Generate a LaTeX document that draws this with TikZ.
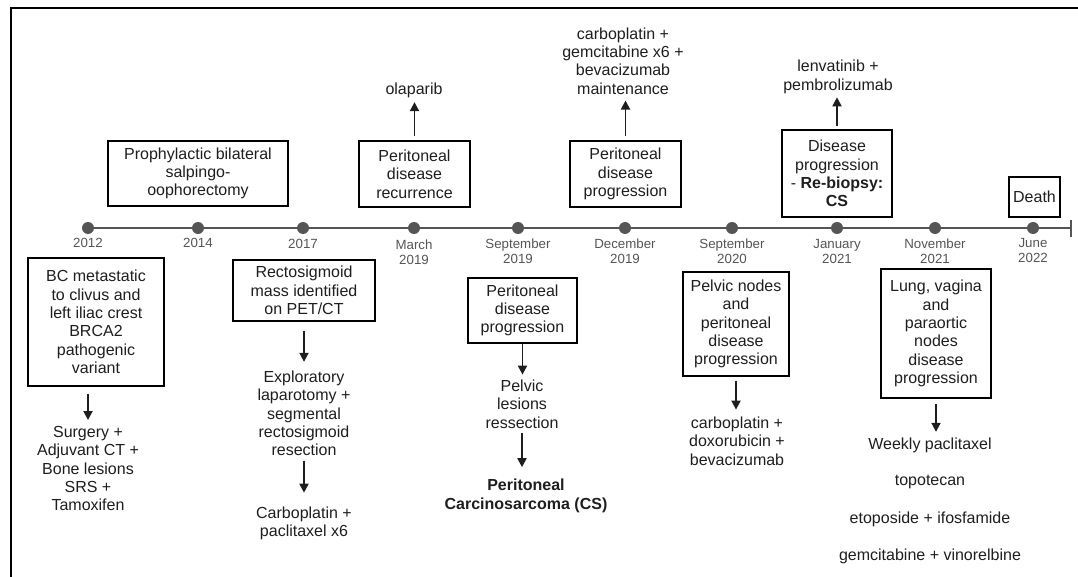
\documentclass[tikz,border=0pt]{standalone}
\usepackage{fontspec}
\setmainfont{Liberation Sans}
\usepackage{xcolor}
\usetikzlibrary{arrows.meta,positioning}
\definecolor{axisgray}{HTML}{555555}
\definecolor{ink}{HTML}{1E1E1E}

\begin{document}
\begin{tikzpicture}[
    x=1pt, y=-1pt,
    event/.style={rectangle, draw=black, line width=1.8pt, inner sep=0pt, align=center, text=ink, font=\fontsize{16}{18.3}\selectfont},
    note/.style={inner sep=0pt, align=center, text=ink, font=\fontsize{16}{18.3}\selectfont},
    dot/.style={circle, fill=axisgray, inner sep=0pt, minimum size=12pt},
    date/.style={inner sep=0pt, align=center, text=axisgray, font=\fontsize{13.3}{15}\selectfont},
    timeline/.style={draw=axisgray, line width=2pt},
    arrow/.style={-{Triangle[length=9pt,width=9pt]}, line width=1.8pt, draw=ink}
]
    \useasboundingbox (0,0) rectangle (1078,577);
    \draw[line width=1.2pt] (11,577) -- (11,8) -- (1078,8);

    % Timeline
    \coordinate (tstart) at (88,228);
    \coordinate (tend) at (1071,228);
    \draw[timeline] (tstart) -- (tend);
    \draw[timeline] ([yshift=8pt]tend) -- ([yshift=-9pt]tend);

    \node[dot] (d1) at (88,228) {};
    \node[dot] (d2) at (198,228) {};
    \node[dot] (d3) at (303,228) {};
    \node[dot] (d4) at (414,228) {};
    \node[dot] (d5) at (518,228) {};
    \node[dot] (d6) at (625,228) {};
    \node[dot] (d7) at (732,228) {};
    \node[dot] (d8) at (837,228) {};
    \node[dot] (d9) at (935,228) {};
    \node[dot] (d10) at (1033,228) {};

    % Dates
    \node[date, below=4pt of d1] (y1) {2012};
    \node[date, below=4pt of d2] (y2) {2014};
    \node[date, below=5pt of d3] (y3) {2017};
    \node[date, below=5pt of d4] (y4) {March\\2019};
    \node[date, below=4pt of d5] (y5) {September\\2019};
    \node[date, below=4pt of d6] (y6) {December\\2019};
    \node[date, below=4pt of d7] (y7) {September\\2020};
    \node[date, below=5pt of d8] (y8) {January\\2021};
    \node[date, below=4pt of d9] (y9) {November\\2021};
    \node[date, below=4pt of d10] (y10) {June\\2022};

    % Events above the line
    \node[event, minimum width=180pt, minimum height=65pt] (proph) at (198,173.5) {Prophylactic bilateral\\salpingo-\\oophorectomy};
    \node[event, minimum width=111pt, minimum height=66pt] (recur) at (414.5,174) {Peritoneal\\disease\\recurrence};
    \node[note] (olap) at (414,90) {olaparib};
    \node[event, minimum width=111pt, minimum height=66pt] (prog1) at (625.5,174) {Peritoneal\\disease\\progression};
    \node[note] (cgb) at (623,61) {carboplatin +\\gemcitabine x6 +\\bevacizumab\\maintenance};
    \node[event, minimum width=110pt, minimum height=87pt] (rebio) at (837,173.5) {Disease\\progression\\- \textbf{Re-biopsy:}\\\textbf{CS}};
    \node[note] (lenv) at (838,77) {lenvatinib +\\pembrolizumab};
    \node[event, minimum width=51pt, minimum height=40pt] (death) at (1034.5,197) {Death};

    % Events below the line
    \node[event, minimum width=136pt, minimum height=128pt] (bc) at (96,322) {BC metastatic\\to clivus and\\left iliac crest\\BRCA2\\pathogenic\\variant};
    \node[note] (surg) at (88,468.5) {Surgery +\\Adjuvant CT +\\Bone lesions\\SRS +\\Tamoxifen};
    \node[event, minimum width=142pt, minimum height=61pt] (recto) at (304,290.5) {Rectosigmoid\\mass identified\\on PET/CT};
    \node[note] (explo) at (304,413.5) {Exploratory\\laparotomy +\\segmental\\rectosigmoid\\resection};
    \node[note] (cp) at (304,523.5) {Carboplatin +\\paclitaxel x6};
    \node[event, minimum width=109pt, minimum height=65pt] (prog2) at (522.5,310.5) {Peritoneal\\disease\\progression};
    \node[note] (pelv) at (522,404) {Pelvic\\lesions\\ressection};
    \node[note, font=\fontsize{16}{18.3}\selectfont\bfseries] (cs) at (526,496) {Peritoneal\\Carcinosarcoma (CS)};
    \node[event, minimum width=106pt, minimum height=104pt] (pelnod) at (736,324) {Pelvic nodes\\and\\peritoneal\\disease\\progression};
    \node[note] (cdb) at (737,441) {carboplatin +\\doxorubicin +\\bevacizumab};
    \node[event, minimum width=110pt, minimum height=129pt] (lung) at (936,333.5) {Lung, vagina\\and\\paraortic\\nodes\\disease\\progression};
    \node[note] (wp) at (930,445) {Weekly paclitaxel};
    \node[note] (topo) at (930,482) {topotecan};
    \node[note] (etop) at (930,519) {etoposide + ifosfamide};
    \node[note] (gemv) at (930,556) {gemcitabine + vinorelbine};

    % Connections
    \draw[arrow, shorten <=4pt, shorten >=4.5pt] (recur.north) -- (recur.north |- olap.south);
    \draw[arrow, shorten <=4pt, shorten >=6pt] (prog1.north) -- (prog1.north |- cgb.south);
    \draw[arrow, shorten <=3pt, shorten >=3.5pt] (rebio.north) -- (rebio.north |- lenv.south);
    \draw[arrow, shorten <=7pt, shorten >=6pt] (bc.south -| surg) -- (surg.north);
    \draw[arrow, shorten <=9pt, shorten >=9pt] (recto.south) -- (explo.north);
    \draw[arrow, shorten <=4.5pt, shorten >=14pt] (explo.south) -- (cp.north);
    \draw[arrow, shorten >=5pt] (prog2.south) -- (prog2.south |- pelv.north);
    \draw[arrow, shorten <=5pt, shorten >=12pt] (pelv.south) -- (pelv.south |- cs.north);
    \draw[arrow, shorten <=4pt, shorten >=7pt] (pelnod.south) -- (pelnod.south |- cdb.north);
    \draw[arrow, shorten <=5pt, shorten >=5.5pt] (lung.south) -- (lung.south |- wp.north);
\end{tikzpicture}
\end{document}
